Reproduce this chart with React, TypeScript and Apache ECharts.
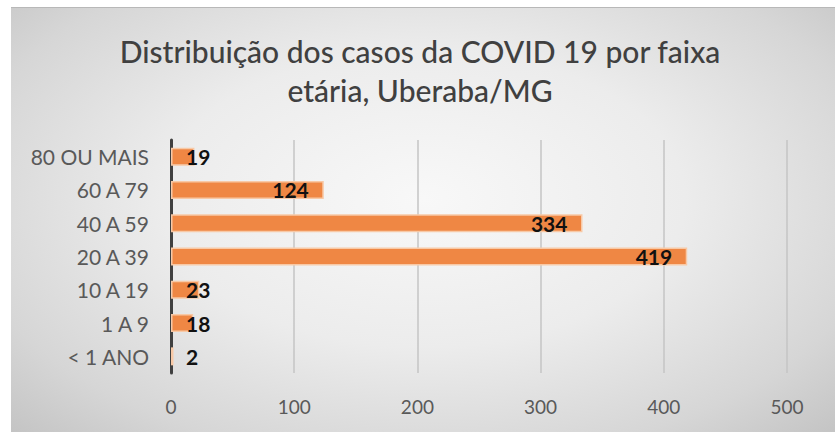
import React, { useEffect, useRef } from "react";
import * as echarts from "echarts";

const categories = ["< 1 ANO", "1 A 9", "10 A 19", "20 A 39", "40 A 59", "60 A 79", "80 OU MAIS"];
const values = [2, 18, 23, 419, 334, 124, 19];
const xTicks = [0, 100, 200, 300, 400, 500];
const titleText = "Distribuição dos casos da COVID 19 por faixa\netária, Uberaba/MG";

export default function App() {
  const ref = useRef<HTMLDivElement>(null);
  useEffect(() => {
    if (!ref.current) return;
    const chart = echarts.init(ref.current, null, { renderer: "svg" });
    const font = "Lato, 'Open Sans', sans-serif";
    chart.setOption({
      animation: false,
      backgroundColor: "transparent",
      title: {
        text: titleText,
        left: "center",
        top: 26,
        textStyle: {
          fontFamily: font,
          fontSize: 30,
          fontWeight: 500,
          color: "#404040",
          lineHeight: 39,
        },
      },
      grid: { left: 171, right: 53, top: 140, bottom: 59, containLabel: false },
      xAxis: {
        type: "value",
        min: xTicks[0],
        max: xTicks[xTicks.length - 1],
        interval: 100,
        axisLine: { show: false },
        axisTick: { show: false },
        splitLine: { show: true, lineStyle: { color: "#c4c4c4", width: 1.5 } },
        axisLabel: { fontFamily: font, fontSize: 19, color: "#595959", margin: 24 },
      },
      yAxis: {
        type: "category",
        data: categories,
        axisLine: { show: true, lineStyle: { color: "#404040", width: 3 } },
        axisTick: { show: false },
        axisLabel: { fontFamily: font, fontSize: 21, color: "#595959", margin: 22 },
      },
      series: [
        {
          type: "bar",
          barWidth: "54%",
          data: values.map((v) => ({
            value: v,
            label: v < 60 ? { position: "insideLeft", distance: 15 } : { position: "insideRight", distance: 15 },
          })),
          itemStyle: { color: "#EF8744", borderColor: "#F8C9A6", borderWidth: 1.5 },
          label: {
            show: true,
            fontFamily: font,
            fontSize: 21,
            fontWeight: "bold",
            color: "#111111",
          },
        },
      ],
    });
    return () => chart.dispose();
  }, []);
  return (
    <div style={{ position: "fixed", left: 0, top: 0, width: 840, height: 432, background: "#ffffff" }}>
      <div
        style={{
          position: "absolute",
          left: 11,
          top: 7,
          width: 824,
          height: 425,
          borderTop: "1px solid #b8b8b8",
          boxSizing: "border-box",
          background: "radial-gradient(ellipse at 50% 45%, #f8f8f8 0%, #ececec 45%, #d6d6d6 80%, #c4c4c4 100%)",
        }}
      />
      <div ref={ref} style={{ position: "absolute", left: 0, top: 0, width: 840, height: 432 }} />
    </div>
  );
}
